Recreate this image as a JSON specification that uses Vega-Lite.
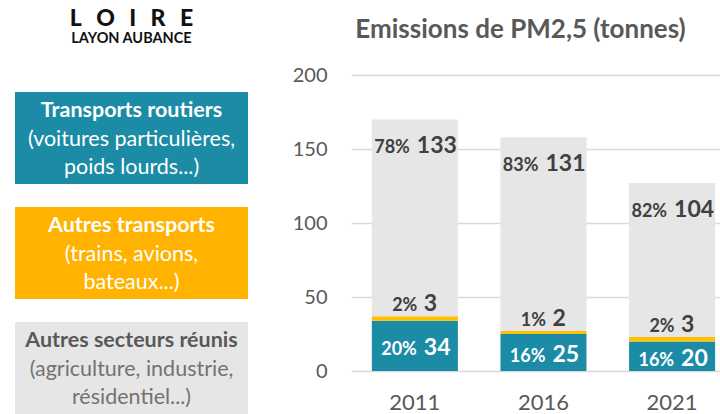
{
  "$schema": "https://vega.github.io/schema/vega-lite/v6.json",
  "padding": {"left": 15, "top": 7, "right": 0, "bottom": 0},
  "bounds": "flush",
  "spacing": 103,
  "background": "white",
  "config": {"font": "Lato", "view": {"stroke": null}},
  "resolve": {"scale": {"color": "independent"}},
  "hconcat": [
    {
      "width": 233,
      "height": 339,
      "title": {
        "text": "L\u2002\u2009O\u2002\u2009I\u2002\u2009R\u2002\u2009E",
        "subtitle": "LAYON AUBANCE",
        "anchor": "middle",
        "font": "Lato",
        "fontSize": 23,
        "fontWeight": 900,
        "color": "#111111",
        "subtitleFont": "Lato",
        "subtitleFontSize": 14.5,
        "subtitleFontWeight": "bold",
        "subtitleColor": "#111111",
        "subtitlePadding": 1,
        "offset": 30
      },
      "data": {
        "values": [
          {"cat": "Transports routiers", "detail": "(voitures particulières,\npoids lourds...)", "ordre": 1},
          {"cat": "Autres transports", "detail": "(trains, avions,\nbateaux...)", "ordre": 2},
          {"cat": "Autres secteurs réunis", "detail": "(agriculture, industrie,\nrésidentiel...)", "ordre": 3}
        ]
      },
      "encoding": {
        "y": {
          "field": "cat",
          "type": "nominal",
          "sort": {"field": "ordre"},
          "scale": {"paddingInner": 0.2, "paddingOuter": 0.074, "align": 1},
          "axis": null
        }
      },
      "layer": [
        {
          "mark": {"type": "rect"},
          "encoding": {
            "color": {
              "field": "cat",
              "type": "nominal",
              "scale": {
                "domain": ["Transports routiers", "Autres transports", "Autres secteurs réunis"],
                "range": ["#1B8BA6", "#FFB300", "#E6E6E6"]
              },
              "legend": null
            }
          }
        },
        {
          "mark": {"type": "text", "font": "Lato", "fontSize": 21.5, "fontWeight": "bold", "baseline": "alphabetic", "align": "center", "dy": -21},
          "encoding": {
            "text": {"field": "cat", "type": "nominal"},
            "color": {"condition": {"test": "datum.ordre === 3", "value": "#595959"}, "value": "#ffffff"}
          }
        },
        {
          "mark": {"type": "text", "font": "Lato", "fontSize": 21.5, "baseline": "alphabetic", "align": "center", "dy": 8, "lineBreak": "\n", "lineHeight": 28},
          "encoding": {
            "text": {"field": "detail", "type": "nominal"},
            "color": {"condition": {"test": "datum.ordre === 3", "value": "#767171"}, "value": "#ffffff"}
          }
        }
      ]
    },
    {
      "width": 369,
      "height": 296,
      "title": {
        "text": "Emissions de PM2,5 (tonnes)",
        "anchor": "middle",
        "font": "Lato",
        "fontSize": 26,
        "fontWeight": "bold",
        "color": "#595959",
        "dx": -15,
        "offset": 22
      },
      "data": {
        "values": [
          {"annee": "2011", "secteur": "Transports routiers", "valeur": 34, "pct": "20%", "ordre": 1},
          {"annee": "2011", "secteur": "Autres transports", "valeur": 3, "pct": "2%", "ordre": 2},
          {"annee": "2011", "secteur": "Autres secteurs réunis", "valeur": 133, "pct": "78%", "ordre": 3},
          {"annee": "2016", "secteur": "Transports routiers", "valeur": 25, "pct": "16%", "ordre": 1},
          {"annee": "2016", "secteur": "Autres transports", "valeur": 2, "pct": "1%", "ordre": 2},
          {"annee": "2016", "secteur": "Autres secteurs réunis", "valeur": 131, "pct": "83%", "ordre": 3},
          {"annee": "2021", "secteur": "Transports routiers", "valeur": 20, "pct": "16%", "ordre": 1},
          {"annee": "2021", "secteur": "Autres transports", "valeur": 3, "pct": "2%", "ordre": 2},
          {"annee": "2021", "secteur": "Autres secteurs réunis", "valeur": 104, "pct": "82%", "ordre": 3}
        ]
      },
      "encoding": {
        "x": {
          "field": "annee",
          "type": "nominal",
          "scale": {"paddingInner": 0.331, "paddingOuter": 0.1, "align": 0.81},
          "axis": {
            "title": null,
            "labelAngle": 0,
            "domain": false,
            "ticks": false,
            "labelPadding": 21,
            "labelFontSize": 22,
            "labelFont": "Lato",
            "labelColor": "#595959"
          }
        },
        "detail": {"field": "secteur", "type": "nominal"},
        "order": {"field": "ordre", "type": "quantitative"}
      },
      "layer": [
        {
          "mark": {"type": "bar"},
          "encoding": {
            "y": {
              "field": "valeur",
              "type": "quantitative",
              "stack": "zero",
              "scale": {"domain": [0, 200]},
              "axis": {
                "title": null,
                "values": [0, 50, 100, 150, 200],
                "domain": false,
                "ticks": false,
                "grid": true,
                "gridColor": "#D9D9D9",
                "gridWidth": 1.5,
                "labelPadding": 24,
                "labelFontSize": 20,
                "labelFont": "Lato",
                "labelColor": "#595959"
              }
            },
            "color": {
              "field": "secteur",
              "type": "nominal",
              "scale": {
                "domain": ["Transports routiers", "Autres transports", "Autres secteurs réunis"],
                "range": ["#1B8BA6", "#FFC000", "#E6E6E6"]
              },
              "legend": null
            }
          }
        },
        {
          "mark": {"type": "text", "font": "Lato", "fontWeight": "bold", "fontSize": 18, "align": "right", "baseline": "alphabetic", "dx": -5, "dy": 34, "color": "#404040"},
          "encoding": {
            "y": {"field": "valeur", "type": "quantitative", "stack": "zero"},
            "text": {"condition": {"test": "datum.ordre === 3", "field": "pct", "type": "nominal"}, "value": ""}
          }
        },
        {
          "mark": {"type": "text", "font": "Lato", "fontWeight": "bold", "fontSize": 23, "align": "left", "baseline": "alphabetic", "dx": 2, "dy": 34, "color": "#404040"},
          "encoding": {
            "y": {"field": "valeur", "type": "quantitative", "stack": "zero"},
            "text": {"condition": {"test": "datum.ordre === 3", "field": "valeur", "type": "quantitative"}, "value": ""}
          }
        },
        {
          "mark": {"type": "text", "font": "Lato", "fontWeight": "bold", "fontSize": 18, "align": "right", "baseline": "alphabetic", "dx": 2.5, "dy": -5, "color": "#404040"},
          "encoding": {
            "y": {"field": "valeur", "type": "quantitative", "stack": "zero"},
            "text": {"condition": {"test": "datum.ordre === 2", "field": "pct", "type": "nominal"}, "value": ""}
          }
        },
        {
          "mark": {"type": "text", "font": "Lato", "fontWeight": "bold", "fontSize": 23, "align": "left", "baseline": "alphabetic", "dx": 9, "dy": -5, "color": "#404040"},
          "encoding": {
            "y": {"field": "valeur", "type": "quantitative", "stack": "zero"},
            "text": {"condition": {"test": "datum.ordre === 2", "field": "valeur", "type": "quantitative"}, "value": ""}
          }
        },
        {
          "mark": {"type": "text", "font": "Lato", "fontWeight": "bold", "fontSize": 18, "align": "right", "baseline": "alphabetic", "dx": 2, "dy": 9.5, "color": "#ffffff"},
          "encoding": {
            "y": {"field": "valeur", "type": "quantitative", "stack": "zero", "bandPosition": 0.5},
            "text": {"condition": {"test": "datum.ordre === 1", "field": "pct", "type": "nominal"}, "value": ""}
          }
        },
        {
          "mark": {"type": "text", "font": "Lato", "fontWeight": "bold", "fontSize": 23, "align": "left", "baseline": "alphabetic", "dx": 9, "dy": 9.5, "color": "#ffffff"},
          "encoding": {
            "y": {"field": "valeur", "type": "quantitative", "stack": "zero", "bandPosition": 0.5},
            "text": {"condition": {"test": "datum.ordre === 1", "field": "valeur", "type": "quantitative"}, "value": ""}
          }
        }
      ]
    }
  ]
}
